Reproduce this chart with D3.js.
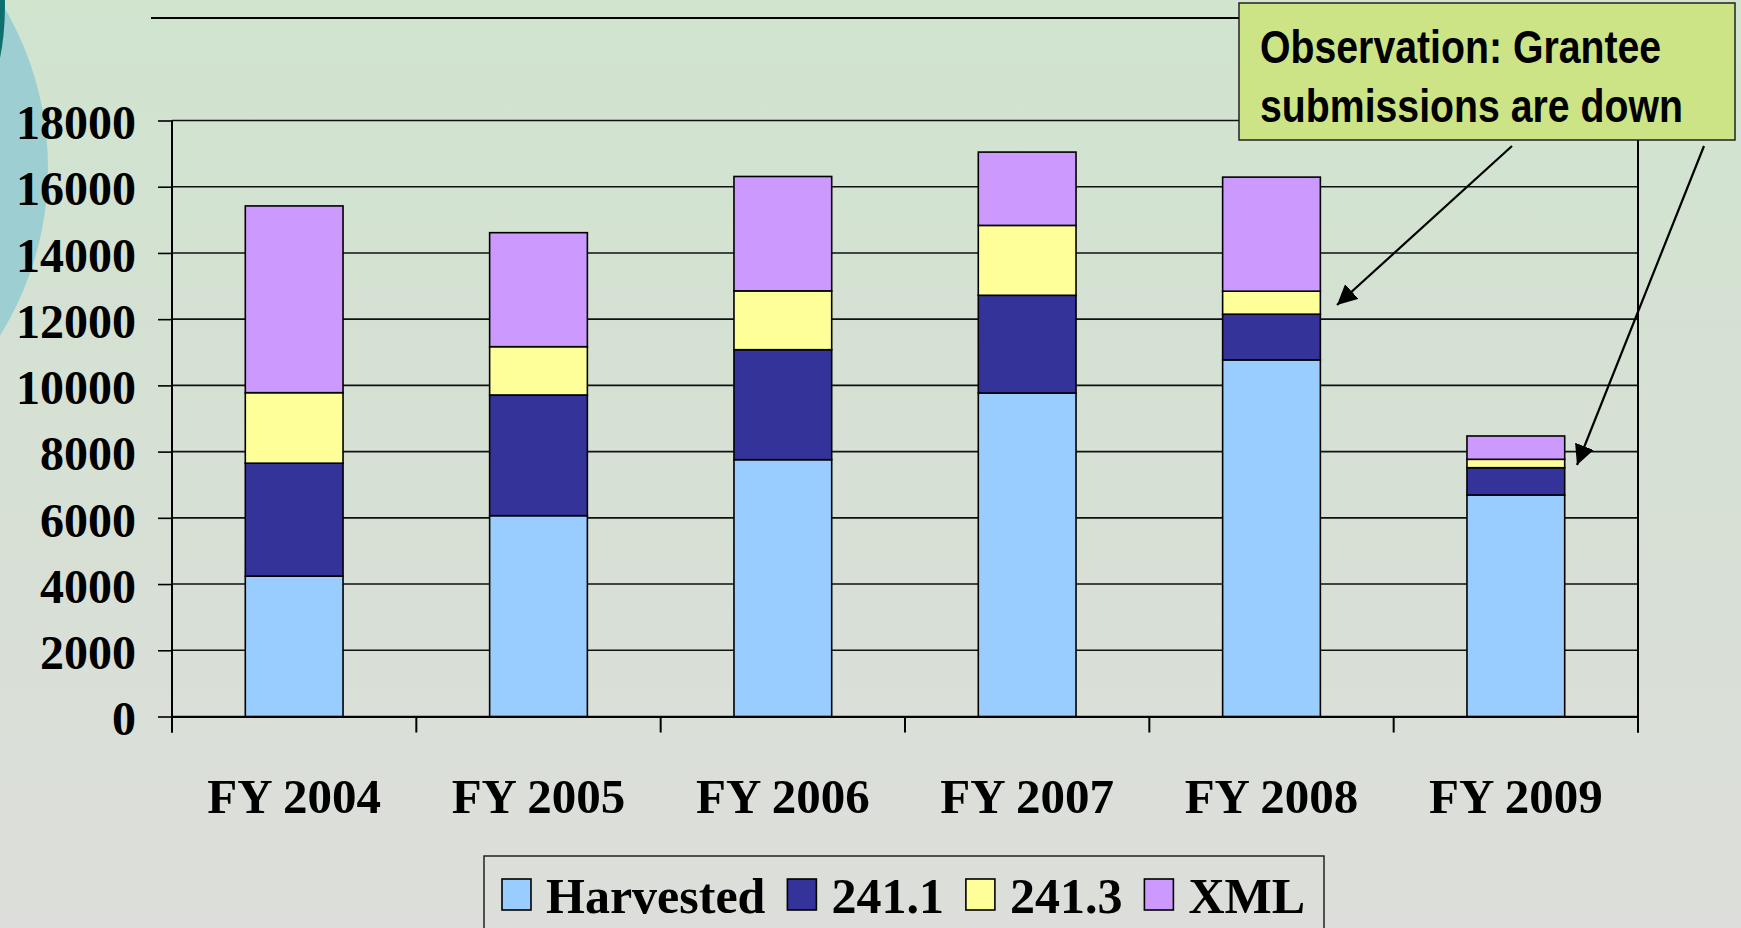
<!DOCTYPE html>
<html>
<head>
<meta charset="utf-8">
<script src="https://cdn.jsdelivr.net/npm/d3@7"></script>
<style>
  html, body { margin: 0; padding: 0; overflow: hidden; }
  svg { display: block; }
</style>
</head>
<body>
<svg id="content"></svg>
<script>
// chart values
const categories = ["FY 2004", "FY 2005", "FY 2006", "FY 2007", "FY 2008", "FY 2009"];
const seriesNames = ["Harvested", "241.1", "241.3", "XML"];
const harvested = [4240, 6065, 7756, 9770, 10770, 6690];
const form2411 = [3410, 3645, 3322, 2951, 1380, 824];
const form2413 = [2130, 1459, 1776, 2111, 695, 254];
const xml = [5640, 3443, 3455, 2214, 3445, 704];
const yTicks = [0, 2000, 4000, 6000, 8000, 10000, 12000, 14000, 16000, 18000];
const colors = ["#99CCFF", "#333399", "#FFFF99", "#CC99FF"];
const noteLines = ["Observation: Grantee", "submissions are down"];

const W = 1741, H = 928;
const plot = { left: 172, right: 1638, top: 120.5, bottom: 716.5 };

const svg = d3.select("#content").attr("width", W).attr("height", H);
const defs = svg.append("defs");

// slide background
const grad = defs.append("linearGradient").attr("id", "bg")
    .attr("x1", 0).attr("y1", 0).attr("x2", 0).attr("y2", 1);
grad.append("stop").attr("offset", "0%").attr("stop-color", "#D0E4CE");
grad.append("stop").attr("offset", "55%").attr("stop-color", "#D7E0D5");
grad.append("stop").attr("offset", "100%").attr("stop-color", "#DDDEDB");
svg.append("rect").attr("width", W).attr("height", H).attr("fill", "url(#bg)");

// decoration on the left edge
svg.append("circle").attr("cx", -268).attr("cy", 168).attr("r", 316).attr("fill", "#9DCFD2");
svg.append("ellipse").attr("cx", -15).attr("cy", 5).attr("rx", 20).attr("ry", 80).attr("fill", "#0F6F6F");

// line across the top
svg.append("line").attr("x1", 151).attr("x2", 1240).attr("y1", 18).attr("y2", 18)
    .attr("stroke", "#000").attr("stroke-width", 2);

const table = categories.map((c, i) => ({
    cat: c,
    "Harvested": harvested[i],
    "241.1": form2411[i],
    "241.3": form2413[i],
    "XML": xml[i]
}));
const stacked = d3.stack().keys(seriesNames)(table);

const x = d3.scaleBand().domain(categories).range([plot.left, plot.right]).padding(0);
const y = d3.scaleLinear().domain([0, 18000]).range([plot.bottom, plot.top]);
const color = d3.scaleOrdinal().domain(seriesNames).range(colors);

// gridlines
svg.append("g")
    .selectAll("line")
    .data(yTicks)
    .join("line")
      .attr("x1", plot.left).attr("x2", plot.right)
      .attr("y1", d => y(d)).attr("y2", d => y(d))
      .attr("stroke", "#111").attr("stroke-width", 1.6);

// right border of the plot
svg.append("line").attr("x1", plot.right).attr("x2", plot.right)
    .attr("y1", plot.top).attr("y2", plot.bottom + 16)
    .attr("stroke", "#000").attr("stroke-width", 2);

// bars
const barW = x.bandwidth() * 0.4;
svg.append("g")
    .selectAll("g")
    .data(stacked)
    .join("g")
      .attr("fill", d => color(d.key))
    .selectAll("rect")
    .data(d => d)
    .join("rect")
      .attr("x", d => x(d.data.cat) + (x.bandwidth() - barW) / 2)
      .attr("y", d => y(d[1]))
      .attr("width", barW)
      .attr("height", d => y(d[0]) - y(d[1]))
      .attr("stroke", "#000")
      .attr("stroke-width", 1.6);

// y axis
const yAxis = svg.append("g")
    .attr("transform", `translate(${plot.left},0)`)
    .call(d3.axisLeft(y).tickValues(yTicks).tickFormat(d3.format("d")).tickSize(14).tickPadding(22));
yAxis.select(".domain").attr("d", `M0,${plot.top}V${plot.bottom + 16}`).attr("stroke-width", 2);
yAxis.selectAll(".tick line").attr("stroke-width", 1.6);
yAxis.selectAll("text")
    .attr("dy", "0.38em")
    .style("font-family", "'Liberation Serif', 'Times New Roman', serif")
    .style("font-weight", "bold")
    .style("font-size", "48px")
    .attr("fill", "#000");

// x axis: tick marks sit at the category boundaries
const xAxis = svg.append("g")
    .attr("transform", `translate(0,${plot.bottom})`)
    .call(d3.axisBottom(x).tickSize(0).tickPadding(62));
xAxis.select(".domain").attr("stroke-width", 2);
xAxis.selectAll("text")
    .attr("dy", "0.71em")
    .style("font-family", "'Liberation Serif', 'Times New Roman', serif")
    .style("font-weight", "bold")
    .style("font-size", "49px")
    .attr("fill", "#000");
xAxis.selectAll("line.bound")
    .data(categories.map(c => x(c)).concat([plot.right]))
    .join("line")
      .attr("class", "bound")
      .attr("x1", d => d).attr("x2", d => d)
      .attr("y1", 0).attr("y2", 16)
      .attr("stroke", "#000").attr("stroke-width", 2);

// legend
const legend = svg.append("g");
legend.append("rect")
    .attr("x", 484).attr("y", 856).attr("width", 840).attr("height", 80)
    .attr("fill", "none").attr("stroke", "#222").attr("stroke-width", 1.5);
let lx = 502;
seriesNames.forEach((name, i) => {
    legend.append("rect")
        .attr("x", lx).attr("y", 879).attr("width", 29).attr("height", 31)
        .attr("fill", colors[i]).attr("stroke", "#000").attr("stroke-width", 1.6);
    const t = legend.append("text")
        .attr("x", lx + 44).attr("y", 913)
        .style("font-family", "'Liberation Serif', 'Times New Roman', serif")
        .style("font-weight", "bold")
        .style("font-size", "50px")
        .text(name);
    lx += 44 + t.node().getComputedTextLength() + 22;
});

// observation note with arrows
defs.append("marker").attr("id", "head")
    .attr("viewBox", "0 0 10 10").attr("refX", 10).attr("refY", 5)
    .attr("markerWidth", 20).attr("markerHeight", 20).attr("markerUnits", "userSpaceOnUse")
    .attr("orient", "auto")
  .append("path").attr("d", "M0,0L10,5L0,10z").attr("fill", "#000");

const arrows = [
    { x1: 1512, y1: 146, x2: 1337, y2: 305 },
    { x1: 1704, y1: 146, x2: 1577, y2: 465 }
];
svg.append("g")
    .selectAll("line")
    .data(arrows)
    .join("line")
      .attr("x1", d => d.x1).attr("y1", d => d.y1)
      .attr("x2", d => d.x2).attr("y2", d => d.y2)
      .attr("stroke", "#000").attr("stroke-width", 2.2)
      .attr("marker-end", "url(#head)");

const note = svg.append("g");
note.append("rect")
    .attr("x", 1239).attr("y", 3).attr("width", 496).attr("height", 137)
    .attr("fill", "#CCE486").attr("stroke", "#222").attr("stroke-width", 1.5);
// the picture uses a condensed bold face; narrow a regular one horizontally
const noteText = note.append("g")
    .selectAll("text")
    .data(noteLines)
    .join("text")
      .attr("x", 0)
      .attr("y", (d, i) => 63 + i * 59)
      .style("font-family", "'Liberation Sans Narrow', 'Arial Narrow', 'Liberation Sans', Arial, sans-serif")
      .style("font-weight", "bold")
      .style("font-size", "47px")
      .text(d => d);
const widest = d3.max(noteText.nodes(), n => n.getComputedTextLength());
const sx = Math.min(1, 423 / widest);
note.select("g").attr("transform", `translate(1260,0) scale(${sx.toFixed(3)},1)`);
</script>
</body>
</html>
